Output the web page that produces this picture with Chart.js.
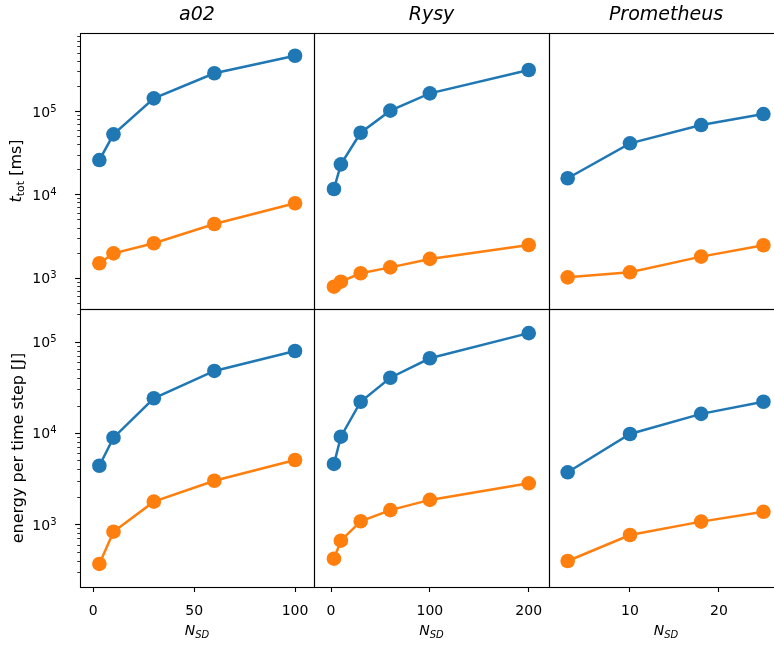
<!DOCTYPE html>
<html>
<head>
<meta charset="utf-8">
<script src="https://cdn.jsdelivr.net/npm/chart.js@4/dist/chart.umd.min.js"></script>
<style>
  html, body { margin: 0; padding: 0; background: #fff; }
  #wrap { position: relative; width: 774px; height: 646px; overflow: hidden; }
  #wrap canvas { position: absolute; left: 0; top: 0; }
</style>
</head>
<body>
<div id="wrap"></div>
<script>
// machines (columns) and N_SD values per machine
const machines = ['a02', 'Rysy', 'Prometheus'];
const nsdA02 = [3, 10, 30, 60, 100];
const nsdRysy = [3, 10, 30, 60, 100, 200];
const nsdProm = [3, 10, 18, 25];

// top row: t_tot [ms]
const tTotBlueA02 = [25800, 52500, 142000, 284000, 461000];
const tTotOrangeA02 = [1490, 1960, 2590, 4410, 7820];
const tTotBlueRysy = [11600, 22900, 54900, 101000, 163000, 311000];
const tTotOrangeRysy = [780, 895, 1130, 1330, 1680, 2470];
const tTotBlueProm = [15600, 41000, 67900, 92000];
const tTotOrangeProm = [1010, 1160, 1790, 2450];

// bottom row: energy per time step [J]
const energyBlueA02 = [4380, 8880, 24000, 47800, 79100];
const energyOrangeA02 = [368, 830, 1770, 3000, 5060];
const energyBlueRysy = [4580, 9110, 22000, 40300, 65800, 124000];
const energyOrangeRysy = [420, 661, 1080, 1430, 1850, 2810];
const energyBlueProm = [3710, 9750, 16200, 22000];
const energyOrangeProm = [396, 763, 1070, 1370];

// axes
const xTicks = [[0, 50, 100], [0, 100, 200], [10, 20]];
const xLimits = [[-6.6, 109.4], [-17.2, 220.5], [0.9, 27.2]];
const yTicks = [1e3, 1e4, 1e5];
const yLimits = [[421, 863700], [205.7, 228000]];

const nsd = [nsdA02, nsdRysy, nsdProm];
const blue = [[tTotBlueA02, tTotBlueRysy, tTotBlueProm], [energyBlueA02, energyBlueRysy, energyBlueProm]];
const orange = [[tTotOrangeA02, tTotOrangeRysy, tTotOrangeProm], [energyOrangeA02, energyOrangeRysy, energyOrangeProm]];

const BLUE = '#1f77b4', ORANGE = '#ff7f0e';
const FONT = '"DejaVu Sans", "Liberation Sans", sans-serif';
const CW = 800, CH = 646;
const colEdges = [80, 314, 549, 783];
const rowEdges = [33, 309, 587];

// draw a run of text pieces (for sub/superscripts), centred on cx
function drawParts(ctx, parts, cx, y, align) {
  let total = 0;
  parts.forEach(p => { ctx.font = p.font; p.w = ctx.measureText(p.t).width; total += p.w; });
  let x = align === 'right' ? cx - total : cx - total / 2;
  ctx.textAlign = 'left';
  ctx.textBaseline = 'alphabetic';
  parts.forEach(p => { ctx.font = p.font; ctx.fillText(p.t, x, y + (p.dy || 0)); x += p.w; });
}

function decoPlugin(row, col) {
  return {
    id: 'deco',
    afterDraw(chart) {
      const ctx = chart.ctx, ca = chart.chartArea, y = chart.scales.y;
      ctx.save();
      ctx.fillStyle = '#000';
      ctx.strokeStyle = '#000';
      if (col === 0) {
        // y ticks: major + minor (log)
        for (let e = 2; e <= 5; e++) {
          for (let k = 1; k <= 9; k++) {
            const v = k * Math.pow(10, e);
            if (v < y.min || v > y.max) continue;
            const py = Math.round(y.getPixelForValue(v)) + 0.5;
            ctx.lineWidth = k === 1 ? 1.1 : 0.8;
            const len = k === 1 ? 4.9 : 2.8;
            ctx.beginPath();
            ctx.moveTo(ca.left - len, py);
            ctx.lineTo(ca.left, py);
            ctx.stroke();
          }
        }
        yTicks.forEach(v => {
          const py = y.getPixelForValue(v);
          const e = Math.round(Math.log10(v));
          drawParts(ctx, [
            { t: '10', font: '14px ' + FONT },
            { t: String(e), font: '10px ' + FONT, dy: -5 }
          ], 56.5, py + 5.5, 'right');
        });
        const midY = (ca.top + ca.bottom) / 2;
        ctx.save();
        if (row === 0) {
          ctx.translate(21, midY);
          ctx.rotate(-Math.PI / 2);
          drawParts(ctx, [
            { t: 't', font: 'italic 16px ' + FONT },
            { t: 'tot', font: '11px ' + FONT, dy: 3 },
            { t: ' [ms]', font: '16px ' + FONT }
          ], 0, 0);
        } else {
          ctx.translate(23, midY);
          ctx.rotate(-Math.PI / 2);
          drawParts(ctx, [{ t: 'energy per time step [J]', font: '16px ' + FONT }], 0, 0);
        }
        ctx.restore();
      }
      const cx = (colEdges[col] + colEdges[col + 1]) / 2;
      if (row === 0) {
        drawParts(ctx, [{ t: machines[col], font: 'italic 19px ' + FONT }], cx, 20);
      } else {
        drawParts(ctx, [
          { t: 'N', font: 'italic 14px ' + FONT },
          { t: 'SD', font: 'italic 10px ' + FONT, dy: 3 }
        ], cx, 635);
      }
      // frame
      ctx.lineWidth = 1.1;
      ctx.strokeRect(ca.left + 0.5, ca.top + 0.5, ca.right - ca.left, ca.bottom - ca.top);
      ctx.restore();
    }
  };
}

const wrap = document.getElementById('wrap');

function makeChart(row, col) {
  const cv = document.createElement('canvas');
  cv.width = CW;
  cv.height = CH;
  wrap.appendChild(cv);
  const L = colEdges[col], R = colEdges[col + 1], T = rowEdges[row], B = rowEdges[row + 1];
  const bottom = row === 1;
  const xs = nsd[col];
  const ds = (vals, color) => ({
    data: xs.map((x, i) => ({ x: x, y: vals[i] })),
    borderColor: color,
    backgroundColor: color,
    borderWidth: 2.5,
    pointRadius: 7.3,
    pointBorderWidth: 0,
    pointBackgroundColor: color,
    tension: 0
  });
  new Chart(cv, {
    type: 'line',
    data: { datasets: [ds(blue[row][col], BLUE), ds(orange[row][col], ORANGE)] },
    options: {
      responsive: false,
      animation: false,
      events: [],
      layout: { padding: { left: L, right: CW - R, top: T, bottom: bottom ? 0 : CH - B } },
      plugins: { legend: { display: false }, tooltip: { enabled: false } },
      scales: {
        x: {
          type: 'linear',
          display: bottom,
          bounds: 'data',
          min: xLimits[col][0],
          max: xLimits[col][1],
          afterFit: s => { if (bottom) s.height = CH - B; },
          afterBuildTicks: s => { s.ticks = xTicks[col].map(v => ({ value: v })); },
          ticks: {
            color: '#000',
            font: { family: FONT, size: 14 },
            padding: 11,
            maxRotation: 0,
            autoSkip: false
          },
          grid: { display: true, drawOnChartArea: false, drawTicks: true, tickLength: 5, tickWidth: 1.1, tickColor: '#000' },
          border: { display: false }
        },
        y: {
          type: 'logarithmic',
          display: false,
          bounds: 'data',
          min: yLimits[row][0],
          max: yLimits[row][1]
        }
      }
    },
    plugins: [decoPlugin(row, col)]
  });
}

for (let r = 0; r < 2; r++) {
  for (let c = 0; c < 3; c++) makeChart(r, c);
}
</script>
</body>
</html>
